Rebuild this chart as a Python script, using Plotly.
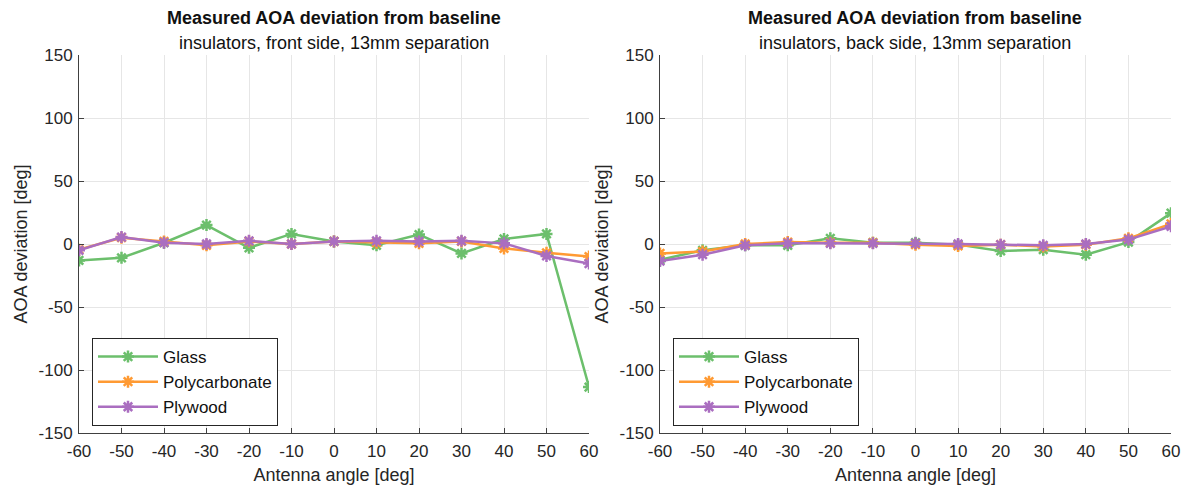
import plotly.graph_objects as go

angles = [-60, -50, -40, -30, -20, -10, 0, 10, 20, 30, 40, 50, 60]

front_glass = [-13, -11, 1, 15, -3, 8, 2, -1, 7.5, -7.5, 4, 8, -113.5]
front_poly = [-4.5, 5, 2, -1, 2, 0, 2, 1, 0.5, 2, -3.5, -7, -10]
front_ply = [-5, 5.5, 1, 0, 2.5, 0, 2, 2.5, 2, 2.5, 0.5, -9.5, -15.5]

back_glass = [-12.5, -5, -1, -1, 4.5, 1, 1, -0.5, -5.5, -4.5, -8.5, 1.5, 24.5]
back_poly = [-7.5, -6, 0, 1.5, 1, 1, -0.5, -1.5, -0.5, -2, -0.5, 4.5, 16]
back_ply = [-13.5, -8.5, -1, 0.5, 0.5, 0.5, 0.5, 0, -0.5, -1, 0, 3.5, 14]

series_names = ["Glass", "Polycarbonate", "Plywood"]
colors = ["#6CBF6C", "#FF9A33", "#AA6EC0"]
titles_sub = ["insulators, front side, 13mm separation", "insulators, back side, 13mm separation"]
main_title = "Measured AOA deviation from baseline"
x_ticks = list(range(-60, 61, 10))
x_ticklabels = [str(v) for v in x_ticks]
y_ticks = [-150, -100, -50, 0, 50, 100, 150]
y_ticklabels = [str(v) for v in y_ticks]

FONT = "Liberation Sans, Arial, sans-serif"
fig = go.Figure()

panels = [
    (front_glass, front_poly, front_ply, "x", "y", "legend"),
    (back_glass, back_poly, back_ply, "x2", "y2", "legend2"),
]
for (g, p, w, xa, ya, lg) in panels:
    for name, vals, col in zip(series_names, [g, p, w], colors):
        fig.add_trace(go.Scatter(
            x=angles, y=vals, name=name, mode="lines+markers",
            xaxis=xa, yaxis=ya, legend=lg,
            line=dict(color=col, width=2.5),
            marker=dict(symbol="asterisk", size=10, color=col,
                        line=dict(color=col, width=2.5)),
        ))

doms = [(79 / 1196, 589 / 1196), (660 / 1196, 1171 / 1196)]
ydom = (1 - 433 / 491, 1 - 55 / 491)
axcommon = dict(showgrid=True, gridcolor="#E6E6E6", gridwidth=1, zeroline=False,
                showline=True, linecolor="#404040", linewidth=1,
                ticks="inside", ticklen=5, tickcolor="#404040", automargin=False,
                tickfont=dict(size=17, color="#262626", family=FONT))
layout = dict(
    width=1196, height=491, margin=dict(l=0, r=0, t=0, b=0),
    plot_bgcolor="white", paper_bgcolor="white",
    font=dict(family=FONT, color="#262626"),
)
for i, (xd, suffix) in enumerate(zip(doms, ["", "2"])):
    layout["xaxis" + suffix] = dict(
        domain=list(xd), range=[-60, 60], tickvals=x_ticks, ticktext=x_ticklabels,
        anchor="y" + suffix, ticklabelstandoff=3,
        title=dict(text="Antenna angle [deg]", font=dict(size=18, family=FONT, color="#262626"), standoff=7),
        **axcommon)
    layout["yaxis" + suffix] = dict(
        domain=list(ydom), range=[-150, 150], tickvals=y_ticks, ticktext=y_ticklabels,
        anchor="x" + suffix, ticklabelstandoff=2,
        title=dict(text="AOA deviation [deg]", font=dict(size=18, family=FONT, color="#262626"), standoff=6),
        **axcommon)
    lgkey = "legend" if i == 0 else "legend2"
    layout[lgkey] = dict(
        x=(xd[0] * 1196 + 13) / 1196, y=1 - 338 / 491, xanchor="left", yanchor="top",
        bgcolor="white", bordercolor="#262626", borderwidth=1,
        font=dict(size=17, family=FONT, color="#111111"),
        tracegroupgap=0, itemwidth=60,
    )
fig.update_layout(**layout)

for xd, sub in zip(doms, titles_sub):
    cx = (xd[0] + xd[1]) / 2
    fig.add_annotation(text="<b>" + main_title + "</b>", x=cx, y=1 - 18 / 491,
                       xref="paper", yref="paper", showarrow=False,
                       xanchor="center", yanchor="middle",
                       font=dict(size=18, family=FONT, color="#111111"))
    fig.add_annotation(text=sub, x=cx, y=1 - 43 / 491,
                       xref="paper", yref="paper", showarrow=False,
                       xanchor="center", yanchor="middle",
                       font=dict(size=18, family=FONT, color="#111111"))

fig.write_html("out.html")
